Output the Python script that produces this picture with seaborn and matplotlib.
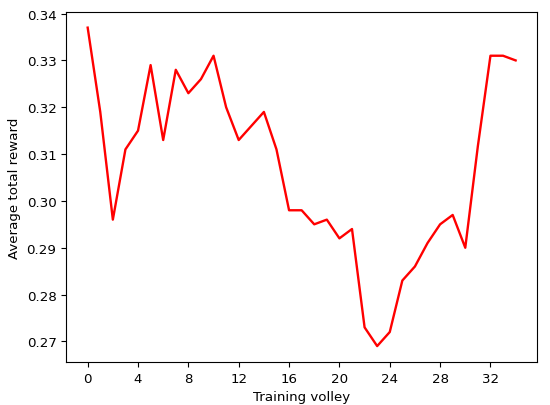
import matplotlib
matplotlib.use("Agg")
import matplotlib.pyplot as plt
import numpy as np
import pandas as pd
import seaborn as sns

# данные
volleys = list(range(35))
rewards = [0.337, 0.319, 0.296, 0.311, 0.315, 0.329, 0.313, 0.328, 0.323, 0.326,
           0.331, 0.320, 0.313, 0.316, 0.319, 0.311, 0.298, 0.298, 0.295, 0.296,
           0.292, 0.294, 0.273, 0.269, 0.272, 0.283, 0.286, 0.291, 0.295, 0.297,
           0.290, 0.3117, 0.331, 0.331, 0.330]
xticks = list(range(0, 33, 4))

df = pd.DataFrame({"volley": volleys, "reward": rewards})

plt.rcParams["font.size"] = 9.6

fig, ax = plt.subplots(figsize=(5.5, 4.06), dpi=100)
sns.lineplot(data=df, x="volley", y="reward", color="red", linewidth=1.7, ax=ax)
ax.set_xticks(xticks)
ax.set_xlabel("Training volley")
ax.set_ylabel("Average total reward")
fig.subplots_adjust(left=0.1205, right=0.9764, bottom=0.1059, top=0.9687)
fig.savefig("out.png", dpi=100)
